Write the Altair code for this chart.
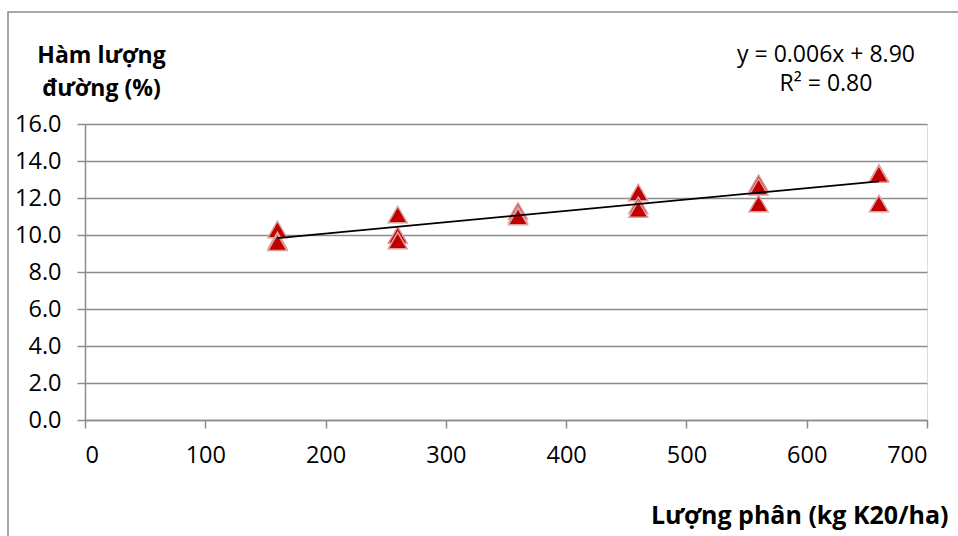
import altair as alt
import pandas as pd

# Data
dose = [160, 160, 160, 260, 260, 260, 360, 360, 360,
        460, 460, 460, 560, 560, 560, 660, 660, 660]
sugar = [10.3, 9.7, 9.6, 11.1, 10.0, 9.7, 11.3, 11.1, 11.0,
         12.3, 11.6, 11.4, 12.8, 12.6, 11.7, 13.35, 13.3, 11.7]
x_ticks = [0, 100, 200, 300, 400, 500, 600, 700]
y_ticks = [0, 2, 4, 6, 8, 10, 12, 14, 16]
equation_lines = ["y = 0.006x + 8.90", "R² = 0.80"]
x_title = "Lượng phân (kg K20/ha)"
y_title = ["Hàm lượng", "đường (%)"]

df = pd.DataFrame({"dose": dose, "sugar": sugar})

FONT = "Open Sans"
GRAY = "#8c8c8c"

x_enc = alt.X(
    "dose:Q",
    scale=alt.Scale(domain=[0, 700], nice=False),
    axis=alt.Axis(
        values=x_ticks, grid=False, format="d", labelOverlap=False,
        title=x_title, titleFont=FONT, titleFontSize=25, titleFontWeight="bold",
        titleColor="black", titleAlign="right", titleBaseline="alphabetic",
        titleX=863, titleY=103, titleAnchor=None,
        labelFont=FONT, labelFontSize=23.5, labelColor="black", labelPadding=15,
        tickSize=8, tickColor=GRAY, tickWidth=1.5,
        domainColor=GRAY, domainWidth=1.5,
    ),
)
y_enc = alt.Y(
    "sugar:Q",
    scale=alt.Scale(domain=[0, 16], nice=False),
    axis=alt.Axis(
        values=y_ticks, format=".1f", labelOverlap=False,
        grid=True, gridColor=GRAY, gridWidth=1.5,
        title=y_title, titleFont=FONT, titleFontSize=23, titleFontWeight="bold",
        titleColor="black", titleAngle=0, titleAlign="center",
        titleBaseline="alphabetic", titleX=16, titleY=-62, titleLineHeight=33,
        labelFont=FONT, labelFontSize=23.5, labelColor="black", labelPadding=16,
        tickSize=8, tickColor=GRAY, tickWidth=1.5,
        domainColor=GRAY, domainWidth=1.5,
    ),
)

base = alt.Chart(df)

border = alt.Chart(pd.DataFrame({"k": [0]})).mark_rect(
    fill=None, stroke=GRAY, strokeWidth=1.5, clip=False
).encode(
    x=alt.value(-77), x2=alt.value(880), y=alt.value(-112), y2=alt.value(420)
)

points = base.mark_point(
    shape="triangle-up", size=360, filled=True, fill="#C00000",
    stroke="#DDA0A0", strokeWidth=1.5, opacity=1
).encode(x=x_enc, y=y_enc)

trend = base.transform_regression("dose", "sugar").mark_line(
    color="black", strokeWidth=1.8
).encode(x=x_enc, y=y_enc)

eq = alt.Chart(pd.DataFrame({"k": [0]})).mark_text(
    text=equation_lines, font=FONT, fontSize=23, color="black",
    align="center", baseline="alphabetic", lineHeight=29, clip=False
).encode(x=alt.value(741), y=alt.value(-62))

chart = alt.layer(border, points, trend, eq).properties(
    width=842, height=296,
    autosize=alt.AutoSizeParams(type="none"),
    padding={"left": 85, "top": 124, "right": 31, "bottom": 116},
).configure_view(stroke=None).configure(background="white")

chart.save("out.html", embed_options={"renderer": "svg", "actions": False})
